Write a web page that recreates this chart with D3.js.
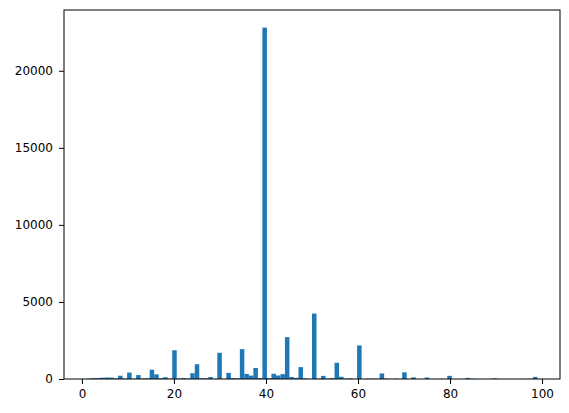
<!DOCTYPE html>
<html>
<head>
<meta charset="utf-8">
<script src="https://cdn.jsdelivr.net/npm/d3@7"></script>
<style>
  body { margin: 0; background: #fff; }
  .axis text { font-family: "DejaVu Sans", sans-serif; font-size: 12px; fill: #000; }
  .axis line, .axis path { stroke: #000; }
</style>
</head>
<body>
<div id="chart"></div>
<script>
// hours-per-week value and how many rows have it
var hours = [1,2,3,4,5,6,7,8,9,10,11,12,13,14,15,16,17,18,19,20,
    21,22,23,24,25,26,27,28,29,30,31,32,33,34,35,36,37,38,39,40,
    41,42,43,44,45,46,47,48,49,50,51,52,53,54,55,56,57,58,59,60,
    61,62,63,64,65,66,67,68,70,72,75,77,78,80,84,85,86,88,90,96,98,99];
var counts = [27,53,59,84,95,92,45,213,27,417,16,255,34,50,601,304,45,115,20,1862,
    36,66,33,375,958,44,45,127,10,1700,8,397,60,43,1937,331,220,714,60,22803,
    52,339,229,315,2717,123,74,770,43,4246,19,203,38,60,1051,144,25,41,7,2177,
    3,27,14,20,360,24,6,19,433,107,96,7,12,206,71,19,4,3,42,9,14,137];

var xTicks = [0, 20, 40, 60, 80, 100];
var yTicks = [0, 5000, 10000, 15000, 20000];

var svgWidth = 569;
var svgHeight = 413;

var margin = {
    top: 10,
    right: 9,
    bottom: 34,
    left: 64
};

var width = svgWidth - margin.left - margin.right;
var height = svgHeight - margin.top - margin.bottom;

// 100 equal bins between the min and max value, like the default histogram
var nBins = 100;
var lo = d3.min(hours), hi = d3.max(hours);
var edges = d3.range(nBins + 1).map(i => lo + (hi - lo) * i / nBins);

var bins = hours.map(function(h, i) {
    var b = Math.min(nBins - 1, d3.bisectRight(edges, h) - 1);
    return { x0: edges[b], x1: edges[b + 1], count: counts[i] };
});

var pad = (hi - lo) * 0.05;
var xScale = d3.scaleLinear()
    .domain([lo - pad, hi + pad])
    .range([0, width]);

var yScale = d3.scaleLinear()
    .domain([0, d3.max(counts) * 1.05])
    .range([height, 0]);

var svg = d3.select('#chart')
    .append('svg')
    .attr('width', svgWidth)
    .attr('height', svgHeight);

var chartGroup = svg.append('g')
    .attr('transform', `translate(${margin.left},${margin.top})`);

// bars
chartGroup.selectAll('rect')
    .data(bins)
    .enter()
    .append('rect')
    .attr('x', d => xScale(d.x0))
    .attr('width', d => xScale(d.x1) - xScale(d.x0))
    .attr('y', d => yScale(d.count))
    .attr('height', d => yScale(0) - yScale(d.count))
    .attr('fill', '#1f77b4');

// axes
var bottomAxis = d3.axisBottom(xScale)
    .tickValues(xTicks)
    .tickFormat(d3.format('d'))
    .tickSize(5)
    .tickSizeOuter(0)
    .tickPadding(5);

var leftAxis = d3.axisLeft(yScale)
    .tickValues(yTicks)
    .tickFormat(d3.format('d'))
    .tickSize(5)
    .tickSizeOuter(0)
    .tickPadding(6);

chartGroup.append('g')
    .attr('class', 'axis')
    .attr('transform', `translate(0, ${height})`)
    .call(bottomAxis)
    .call(g => g.select('.domain').remove());

chartGroup.append('g')
    .attr('class', 'axis')
    .call(leftAxis)
    .call(g => g.select('.domain').remove());

// frame around the plot area
chartGroup.append('rect')
    .attr('x', 0)
    .attr('y', 0)
    .attr('width', width)
    .attr('height', height)
    .attr('fill', 'none')
    .attr('stroke', '#000')
    .attr('stroke-width', 1);
</script>
</body>
</html>
